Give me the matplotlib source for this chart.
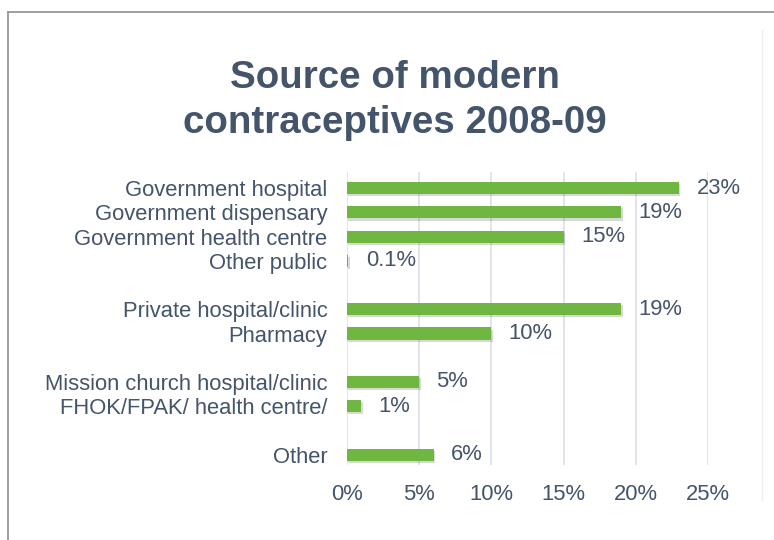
import matplotlib
matplotlib.use("Agg")
import matplotlib.pyplot as plt
import matplotlib.patheffects as pe
from matplotlib.lines import Line2D

title = "Source of modern\ncontraceptives 2008-09"
categories = ["Government hospital", "Government dispensary", "Government health centre",
              "Other public", "", "Private hospital/clinic", "Pharmacy", "",
              "Mission church hospital/clinic", "FHOK/FPAK/ health centre/", "", "Other"]
values = [23, 19, 15, 0.1, None, 19, 10, None, 5, 1, None, 6]
xticks = [0, 5, 10, 15, 20, 25]
xticklabels = ["0%", "5%", "10%", "15%", "20%", "25%"]

plt.rcParams['font.family'] = ['Liberation Sans', 'DejaVu Sans']
txt = '#44546A'
green = '#70B742'

fig = plt.figure(figsize=(7.74, 5.40), dpi=100)
ax = fig.add_axes([0.4483, 0.1389, 0.4664, 0.5426])

ys = [i for i, v in enumerate(values) if v is not None]
vs = [v for v in values if v is not None]
bars = ax.barh(ys, vs, height=0.5, color=green, zorder=3,
               path_effects=[pe.SimplePatchShadow(offset=(1, -1.5), alpha=0.18), pe.Normal()])
for y, v in zip(ys, vs):
    ax.annotate(f"{v:g}%", (v, y), xytext=(12.5, 0), textcoords='offset points',
                va='center', ha='left', fontsize=15.8, color=txt)

ax.set_ylim(11.43, -0.67)
ax.set_xlim(0, 25)
ax.set_yticks(range(len(categories)))
ax.set_yticklabels(categories, fontsize=15.8, color=txt)
ax.set_xticks(xticks)
ax.set_xticklabels(xticklabels, fontsize=15.8, color=txt)
ax.tick_params(axis='both', length=0)
ax.tick_params(axis='y', pad=14)
ax.tick_params(axis='x', pad=14)
for s in ax.spines.values():
    s.set_visible(False)
ax.grid(axis='x', color='#DDE2EA', linewidth=1.3, zorder=0)
ax.set_axisbelow(True)

fig.text(0.51, 0.8138, title, ha='center', va='center', fontsize=27.7,
         fontweight='bold', color=txt, linespacing=1.3)

# frame lines
fig.add_artist(Line2D([8/774, 1], [1 - 12/540, 1 - 12/540], color='#999999', linewidth=1.3))
fig.add_artist(Line2D([8/774, 8/774], [0, 1 - 12/540], color='#999999', linewidth=1.3))
fig.add_artist(Line2D([762/774, 762/774], [1 - 30/540, 1 - 500/540], color='#EEEEEE', linewidth=1))

fig.savefig("out.png", dpi=100)
